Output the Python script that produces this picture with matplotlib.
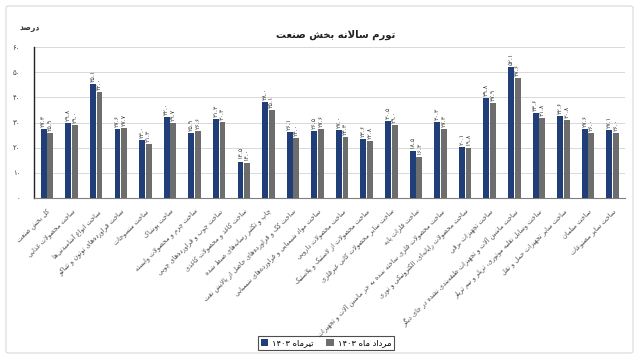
import re
import numpy as np
import matplotlib
matplotlib.use("Agg")
import matplotlib.pyplot as plt
from matplotlib.patches import FancyBboxPatch

plt.rcParams['font.family'] = ['DejaVu Sans']

categories = [
    "کل بخش صنعت",
    "ساخت محصولات غذایی",
    "ساخت انواع آشامیدنی‌ها",
    "ساخت فراورده‌های توتون و تنباکو",
    "ساخت منسوجات",
    "ساخت پوشاک",
    "ساخت چرم و محصولات وابسته",
    "ساخت چوب و فراورده‌های چوبی",
    "ساخت کاغذ و محصولات کاغذی",
    "چاپ و تکثیر رسانه‌های ضبط شده",
    "ساخت کک و فراورده‌های حاصل از پالایش نفت",
    "ساخت مواد شیمیایی و فراورده‌های شیمیایی",
    "ساخت محصولات دارویی",
    "ساخت محصولات از لاستیک و پلاستیک",
    "ساخت سایر محصولات کانی غیرفلزی",
    "ساخت فلزات پایه",
    "ساخت محصولات فلزی ساخته شده به جز ماشین آلات و تجهیزات",
    "ساخت محصولات رایانه‌ای، الکترونیکی و نوری",
    "ساخت تجهیزات برقی",
    "ساخت ماشین آلات و تجهیزات طبقه‌بندی نشده در جای دیگر",
    "ساخت وسایل نقلیه موتوری، تریلر و نیم تریلر",
    "ساخت سایر تجهیزات حمل و نقل",
    "ساخت مبلمان",
    "ساخت سایر مصنوعات",
]
tir_1403 = [27.3, 29.8, 45.1, 27.6, 23.0, 32.0, 25.9, 31.3, 14.5, 38.0, 26.1, 26.5,
            27.0, 23.6, 30.5, 18.5, 30.3, 20.1, 39.8, 52.1, 33.6, 32.6, 27.6, 27.1]
mordad_1403 = [25.9, 29.0, 42.0, 27.7, 21.3, 29.7, 26.6, 30.3, 14.0, 35.1, 24.0, 27.6,
               24.3, 22.8, 29.0, 16.3, 27.3, 19.8, 37.9, 47.6, 31.8, 30.8, 26.0, 26.0]
yticks = [0, 10, 20, 30, 40, 50, 60]
series_names = ["تیرماه ۱۴۰۳", "مرداد ماه ۱۴۰۳"]
title = "تورم سالانه بخش صنعت"
ylabel = "درصد"

# ---- minimal Persian shaping + RTL ----
F = {
 'ا': ('\uFE8D', '\uFE8E', None, None), 'آ': ('\uFE81', '\uFE82', None, None),
 'ب': ('\uFE8F', '\uFE90', '\uFE91', '\uFE92'), 'پ': ('\uFB56', '\uFB57', '\uFB58', '\uFB59'),
 'ت': ('\uFE95', '\uFE96', '\uFE97', '\uFE98'), 'ث': ('\uFE99', '\uFE9A', '\uFE9B', '\uFE9C'),
 'ج': ('\uFE9D', '\uFE9E', '\uFE9F', '\uFEA0'), 'چ': ('\uFB7A', '\uFB7B', '\uFB7C', '\uFB7D'),
 'ح': ('\uFEA1', '\uFEA2', '\uFEA3', '\uFEA4'), 'خ': ('\uFEA5', '\uFEA6', '\uFEA7', '\uFEA8'),
 'د': ('\uFEA9', '\uFEAA', None, None), 'ذ': ('\uFEAB', '\uFEAC', None, None),
 'ر': ('\uFEAD', '\uFEAE', None, None), 'ز': ('\uFEAF', '\uFEB0', None, None),
 'ژ': ('\uFB8A', '\uFB8B', None, None),
 'س': ('\uFEB1', '\uFEB2', '\uFEB3', '\uFEB4'), 'ش': ('\uFEB5', '\uFEB6', '\uFEB7', '\uFEB8'),
 'ص': ('\uFEB9', '\uFEBA', '\uFEBB', '\uFEBC'), 'ض': ('\uFEBD', '\uFEBE', '\uFEBF', '\uFEC0'),
 'ط': ('\uFEC1', '\uFEC2', '\uFEC3', '\uFEC4'), 'ظ': ('\uFEC5', '\uFEC6', '\uFEC7', '\uFEC8'),
 'ع': ('\uFEC9', '\uFECA', '\uFECB', '\uFECC'), 'غ': ('\uFECD', '\uFECE', '\uFECF', '\uFED0'),
 'ف': ('\uFED1', '\uFED2', '\uFED3', '\uFED4'), 'ق': ('\uFED5', '\uFED6', '\uFED7', '\uFED8'),
 'ک': ('\uFB8E', '\uFB8F', '\uFB90', '\uFB91'), 'گ': ('\uFB92', '\uFB93', '\uFB94', '\uFB95'),
 'ل': ('\uFEDD', '\uFEDE', '\uFEDF', '\uFEE0'), 'م': ('\uFEE1', '\uFEE2', '\uFEE3', '\uFEE4'),
 'ن': ('\uFEE5', '\uFEE6', '\uFEE7', '\uFEE8'), 'و': ('\uFEED', '\uFEEE', None, None),
 'ه': ('\uFEE9', '\uFEEA', '\uFEEB', '\uFEEC'), 'ی': ('\uFBFC', '\uFBFD', '\uFBFE', '\uFBFF'),
 'ئ': ('\uFE89', '\uFE8A', '\uFE8B', '\uFE8C'),
}
LAMALEF = {'ا': ('\uFEFB', '\uFEFC'), 'آ': ('\uFEF5', '\uFEF6')}


def _dual(c):
    return c in F and F[c][2] is not None


def shape(s):
    out, i, n = [], 0, len(s)
    while i < n:
        c = s[i]
        if c not in F:
            if c != '\u200c':
                out.append(c)
            i += 1
            continue
        jp = i > 0 and _dual(s[i - 1])
        if c == 'ل' and i + 1 < n and s[i + 1] in LAMALEF:
            out.append(LAMALEF[s[i + 1]][1 if jp else 0])
            i += 2
            continue
        jn = _dual(c) and i + 1 < n and s[i + 1] in F
        iso, fin, ini, med = F[c]
        out.append(med if (jp and jn) else fin if jp else ini if jn else iso)
        i += 1
    return ''.join(out)


def rtl(s):
    rev = shape(s)[::-1]
    return re.sub(r'[0-9۰-۹][0-9۰-۹.]*', lambda m: m.group(0)[::-1], rev)


FA = str.maketrans('0123456789', '۰۱۲۳۴۵۶۷۸۹')


def fa(v, fmt='{:.1f}'):
    return fmt.format(v).translate(FA)


# ---- figure ----
blue = '#203F78'
gray = '#6D6D6D'
fig = plt.figure(figsize=(6.4, 3.58), dpi=100)
fig.patch.set_facecolor('white')
frame = FancyBboxPatch((6 / 640, 5 / 358), 627 / 640, 347 / 358,
                       boxstyle='round,pad=0,rounding_size=0.005',
                       transform=fig.transFigure, facecolor='none',
                       edgecolor='#D9D9D9', linewidth=0.8, zorder=-5)
fig.add_artist(frame)

ax = fig.add_axes([34 / 640, 1 - 198 / 358, 591 / 640, 151 / 358])
ax.patch.set_alpha(0)
x = np.arange(len(categories))
w = 0.24
off = 0.135
ax.bar(x - off, tir_1403, w, color=blue, label=rtl(series_names[0]), zorder=3)
ax.bar(x + off, mordad_1403, w, color=gray, label=rtl(series_names[1]), zorder=3)

for xi, v in zip(x, tir_1403):
    ax.text(xi - off, v + 0.8, fa(v), rotation=90, ha='center', va='bottom',
            fontsize=4.6, color='#404040')
for xi, v in zip(x, mordad_1403):
    ax.text(xi + off, v + 0.8, fa(v), rotation=90, ha='center', va='bottom',
            fontsize=4.6, color='#404040')

ax.set_xlim(-0.53, len(categories) - 0.5)
ax.set_ylim(0, 60)
ax.set_yticks(yticks)
ax.set_yticklabels([fa(t, '{:d}') for t in yticks], fontsize=5, color='#404040')
ax.set_xticks(x)
ax.set_xticklabels([rtl(c) for c in categories], rotation=45, ha='right', va='top',
                   rotation_mode='anchor', fontsize=4.7, color='#505050')
ax.tick_params(axis='x', length=0, pad=7)
ax.tick_params(axis='y', length=0, pad=10)
ax.grid(axis='y', color='#D9D9D9', linewidth=0.7, zorder=0)
ax.set_axisbelow(True)
for s in ['top', 'right']:
    ax.spines[s].set_visible(False)
ax.spines['left'].set_color('#222222')
ax.spines['left'].set_linewidth(1.0)
ax.spines['bottom'].set_color('#7F7F7F')
ax.spines['bottom'].set_linewidth(0.8)

fig.text(336 / 640, 1 - 35 / 358, rtl(title), ha='center', va='center',
         fontsize=7.2, fontweight='bold', color='#202020')
fig.text(30 / 640, 1 - 27 / 358, rtl(ylabel), ha='center', va='center',
         fontsize=5.5, fontweight='bold', color='#303030')

handles, labels = ax.get_legend_handles_labels()
leg = fig.legend(handles, labels, loc='center', ncol=2,
                 bbox_to_anchor=(326 / 640, 1 - 343 / 358), markerfirst=True,
                 fontsize=6, frameon=True, fancybox=False, edgecolor='#222222',
                 handlelength=0.9, handleheight=0.9, handletextpad=0.5,
                 columnspacing=1.5, borderpad=0.35)
leg.get_frame().set_linewidth(0.8)

fig.savefig('out.png', dpi=100, facecolor='white')
